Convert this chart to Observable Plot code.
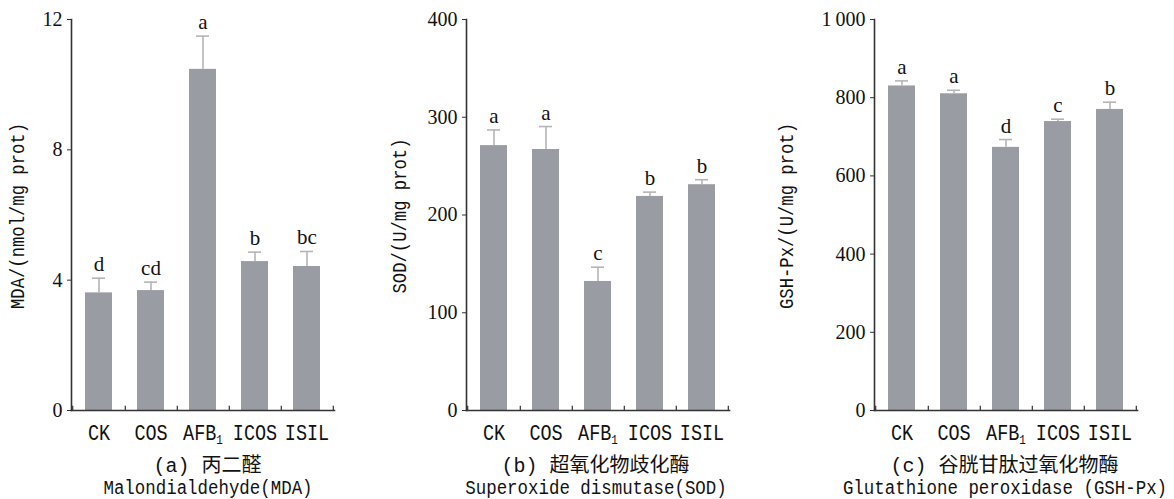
<!DOCTYPE html>
<html>
<head>
<meta charset="utf-8">
<script src="https://cdn.jsdelivr.net/npm/d3@7"></script>
<script src="https://cdn.jsdelivr.net/npm/@observablehq/plot@0.6"></script>
<style>
  html, body { margin: 0; padding: 0; background: #fff; }
  #root { position: relative; width: 1174px; height: 499px; overflow: hidden; background: #fff; }
  .panel { position: absolute; top: 0; }
  .ytitle { position: absolute; white-space: nowrap; font-family: "Liberation Mono", "DejaVu Sans Mono", monospace; font-size: 20.5px; color: #111; transform: translate(-50%, -50%) rotate(-90deg) scale(0.84, 1); }
  .cap1 { position: absolute; white-space: nowrap; font-family: "Liberation Mono", "Noto Sans CJK SC", monospace; font-size: 20px; color: #111; transform: translate(-50%, -50%); }
  .cap2 { position: absolute; white-space: nowrap; font-family: "Liberation Mono", "DejaVu Sans Mono", monospace; font-size: 20.5px; color: #111; transform: translate(-50%, -50%) scale(0.85, 1); }
</style>
</head>
<body>
<div id="root"></div>
<script>
// ---- data ----
const categories = ["CK", "COS", "AFB1", "ICOS", "ISIL"];

const mdaMean = [3.61, 3.68, 10.47, 4.57, 4.42];
const mdaErr = [0.45, 0.26, 1.02, 0.29, 0.46];
const mdaLetters = ["d", "cd", "a", "b", "bc"];
const mdaTicks = [0, 4, 8, 12];

const sodMean = [271, 267, 132, 219, 231];
const sodErr = [16, 23.5, 14.6, 4.4, 5.1];
const sodLetters = ["a", "a", "c", "b", "b"];
const sodTicks = [0, 100, 200, 300, 400];

const gshMean = [830, 810, 673, 739, 770];
const gshErr = [13, 9, 20, 6, 18.5];
const gshLetters = ["a", "a", "d", "c", "b"];
const gshTicks = [0, 200, 400, 600, 800, 1000];

const yTitles = ["MDA/(nmol/mg prot)", "SOD/(U/mg prot)", "GSH-Px/(U/mg prot)"];
const captionsCN = ["(a) 丙二醛", "(b) 超氧化物歧化酶", "(c) 谷胱甘肽过氧化物酶"];
const captionsEN = ["Malondialdehyde(MDA)", "Superoxide dismutase(SOD)", "Glutathione peroxidase (GSH-Px)"];

// ---- drawing ----
const root = document.getElementById("root");
const barColor = "#9a9ca3";
const errColor = "#b5b5b8";
const axisColor = "#333";
const H = 455, MT = 19, MB = 45, MR = 11, PLOTW = 263;
const serif = "'Liberation Serif', 'DejaVu Serif', serif";
const mono = "'Liberation Mono', 'DejaVu Sans Mono', monospace";

function fmt(d) {
  return d3.format(",")(d).replace(/,/g, "\u2009");
}

function panel(cfg) {
  const rows = categories.map((c, i) => ({cat: c, v: cfg.mean[i], e: cfg.err[i], top: cfg.mean[i] + cfg.err[i], L: cfg.letters[i]}));
  const width = cfg.marginLeft + PLOTW + MR;
  const step = PLOTW / categories.length;
  const yMax = cfg.ticks[cfg.ticks.length - 1];
  const tickLen = yMax * 0.011;
  const chart = Plot.plot({
    width, height: H,
    marginLeft: cfg.marginLeft, marginRight: MR, marginTop: MT, marginBottom: MB,
    style: {fontFamily: serif, fontSize: "20px", color: "#111", background: "#fff", overflow: "visible"},
    x: {domain: categories, paddingInner: 0.487, paddingOuter: 0.2435},
    y: {domain: [0, yMax]},
    marks: [
      Plot.barY(rows, {x: "cat", y: "v", fill: barColor}),
      Plot.ruleX(rows, {x: "cat", y1: "v", y2: "top", stroke: errColor, strokeWidth: 1.6}),
      Plot.tickY(rows, {x: "cat", y: "top", stroke: errColor, strokeWidth: 1.6, insetLeft: 7, insetRight: 7}),
      Plot.text(rows, {x: "cat", y: "top", text: "L", dy: -7, lineAnchor: "bottom", fontSize: 21, fill: "#111"}),
      // band boundary ticks on the x axis
      Plot.ruleX(categories, {x: d => d, y1: 0, y2: tickLen, dx: step / 2, stroke: axisColor, strokeWidth: 1.2}),
      Plot.ruleX(categories.slice(0, 1), {x: d => d, y1: 0, y2: tickLen, dx: -step / 2, stroke: axisColor, strokeWidth: 1.2}),
      Plot.axisY({ticks: cfg.ticks, tickFormat: fmt, tickSize: 4, tickPadding: 5, label: null, stroke: axisColor, fontSize: 20}),
      Plot.axisX({tickSize: 0, tickPadding: 13.5, label: null}),
      Plot.frame({anchor: "left", stroke: axisColor, strokeWidth: 1.6}),
      Plot.frame({anchor: "bottom", stroke: axisColor, strokeWidth: 1.6})
    ]
  });
  const yLabels = new Set(cfg.ticks.map(fmt));
  chart.querySelectorAll("text").forEach(t => {
    const s = t.textContent;
    if (yLabels.has(s) && !cfg.letters.includes(s)) {
      t.style.fontSize = "20px";
      t.style.fontFamily = serif;
      t.setAttribute("fill", "#111");
    } else if (categories.includes(s)) {
      t.style.fontSize = "22px";
      t.style.fontFamily = mono;
      t.setAttribute("fill", "#111");
      const tr = t.getAttribute("transform") || "";
      t.setAttribute("transform", tr + " scale(0.84 1)");
      if (s === "AFB1") {
        // subscript
        t.textContent = "AFB";
        const ts = document.createElementNS("http://www.w3.org/2000/svg", "tspan");
        ts.setAttribute("font-size", "13");
        ts.setAttribute("dy", "4");
        ts.textContent = "1";
        t.appendChild(ts);
      }
    }
  });
  const div = document.createElement("div");
  div.className = "panel";
  div.style.left = cfg.left + "px";
  div.appendChild(chart);
  root.appendChild(div);

  const yt = document.createElement("div");
  yt.className = "ytitle";
  yt.textContent = cfg.ytitle;
  yt.style.left = cfg.ytx + "px";
  yt.style.top = "216px";
  root.appendChild(yt);

  const cx = cfg.left + cfg.marginLeft + PLOTW / 2 + cfg.capdx;
  const c1 = document.createElement("div");
  c1.className = "cap1";
  c1.textContent = cfg.cap1;
  c1.style.left = cx + "px";
  c1.style.top = "463px";
  root.appendChild(c1);
  const c2 = document.createElement("div");
  c2.className = "cap2";
  c2.textContent = cfg.cap2;
  c2.style.left = cx + "px";
  c2.style.top = "488px";
  root.appendChild(c2);
}

panel({left: 0, marginLeft: 71, ticks: mdaTicks, mean: mdaMean, err: mdaErr, letters: mdaLetters, ytitle: yTitles[0], ytx: 18, cap1: captionsCN[0], cap2: captionsEN[0], capdx: 5});
panel({left: 395, marginLeft: 71, ticks: sodTicks, mean: sodMean, err: sodErr, letters: sodLetters, ytitle: yTitles[1], ytx: 400, cap1: captionsCN[1], cap2: captionsEN[1], capdx: -2});
panel({left: 783, marginLeft: 91, ticks: gshTicks, mean: gshMean, err: gshErr, letters: gshLetters, ytitle: yTitles[2], ytx: 787, cap1: captionsCN[2], cap2: captionsEN[2], capdx: -1});
</script>
</body>
</html>
